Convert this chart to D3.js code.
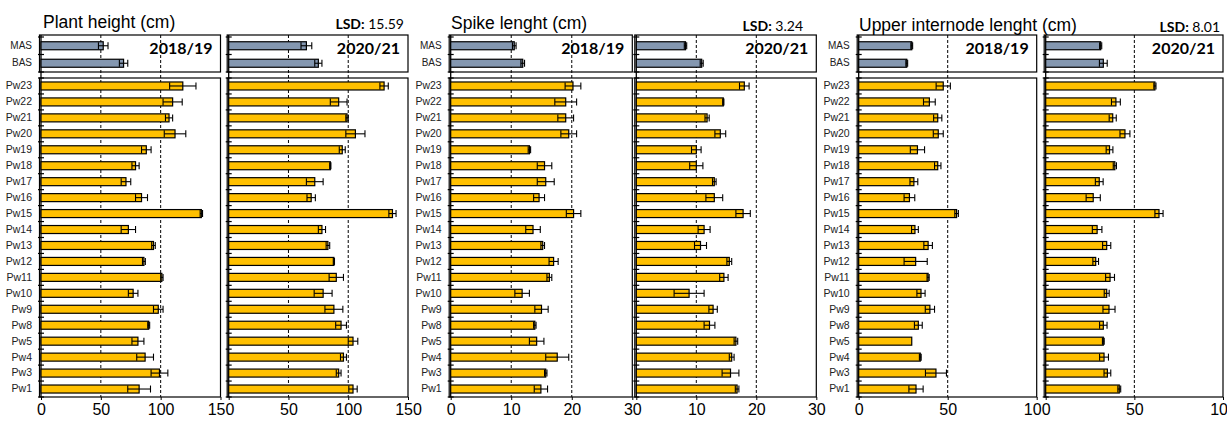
<!DOCTYPE html>
<html>
<head>
<meta charset="utf-8">
<script src="https://cdn.jsdelivr.net/npm/d3@7"></script>
<style>
body { margin: 0; background: #fff; }
text { font-family: "Liberation Sans", Arial, sans-serif; }
</style>
</head>
<body>
<svg id="chart" width="1227" height="421"></svg>
<script>
// categories (top to bottom)
var lines = ["Pw23", "Pw22", "Pw21", "Pw20", "Pw19", "Pw18", "Pw17", "Pw16", "Pw15", "Pw14",
             "Pw13", "Pw12", "Pw11", "Pw10", "Pw9", "Pw8", "Pw5", "Pw4", "Pw3", "Pw1"];
var checks = ["MAS", "BAS"];
var years = ["2018/19", "2020/21"];
var traitTitles = ["Plant height (cm)", "Spike lenght (cm)", "Upper internode lenght (cm)"];
var lsdValues = ["15.59", "3.24", "8.01"];

var heightTicks = [0, 50, 100, 150];
var spikeTicks = [0, 10, 20, 30];
var internodeTicks = [0, 50, 100];

// plant height
var heightChecks1819 = [52, 69];
var heightChecksSe1819 = [4, 3.5];
var height1819 = [118.5, 110, 107, 112, 88, 79, 71, 84, 134, 73, 94, 86, 101, 77, 98, 90, 81, 87, 99, 82];
var heightSe1819 = [11, 8, 3, 9, 4, 3, 4, 5, 1, 6, 1.5, 1.2, 1, 4, 4, 0.8, 5, 7, 7, 9.5];
var heightChecks2021 = [65, 75];
var heightChecksSe2021 = [4.5, 3];
var height2021 = [130, 92, 99, 106, 95, 85, 72, 69, 137, 78, 83, 88, 90, 79, 88, 94, 104, 96, 92, 104];
var heightSe2021 = [3.5, 7, 1, 8, 2.5, 0.5, 7, 3.5, 3, 3, 1.5, 0.5, 6, 7.5, 7.5, 4.5, 4, 2.5, 2, 3.5];

// spike length
var spikeChecks1819 = [10.5, 11.9];
var spikeChecksSe1819 = [0.3, 0.3];
var spike1819 = [20.2, 19, 19, 19.5, 13, 15.5, 15.7, 14.6, 20.3, 13.6, 15.2, 17, 16.3, 11.8, 15, 13.9, 14.2, 17.6, 15.7, 14.9];
var spikeSe1819 = [1.3, 1.8, 1.3, 1.3, 0.2, 1.2, 1.4, 0.9, 1.2, 1.2, 0.3, 0.75, 0.4, 1.2, 1.1, 0.2, 1.2, 1.9, 0.2, 1.1];
var spikeChecks2021 = [8.2, 10.9];
var spikeChecksSe2021 = [0.2, 0.25];
var spike2021 = [18, 14.5, 11.8, 14, 10, 10, 13, 13, 17.8, 11.3, 10.7, 15.5, 14.6, 8.8, 12.8, 12.2, 16.6, 15.9, 15.7, 16.8];
var spikeSe2021 = [0.8, 0.1, 0.35, 0.9, 0.8, 1.1, 0.3, 1.4, 1.2, 1, 1, 0.4, 0.7, 2.5, 0.7, 0.9, 0.3, 0.4, 1.4, 0.3];

// upper internode length
var internodeChecks1819 = [29.8, 27];
var internodeChecksSe1819 = [0.5, 0.5];
var internode1819 = [47.5, 39.7, 44.4, 44.7, 33, 44.4, 31, 28.5, 55, 31.6, 39, 32, 39, 35, 40, 33.5, 29.8, 34.6, 43.4, 32.2];
var internodeSe1819 = [4, 3.3, 2.3, 2.8, 4, 1.8, 2.2, 3, 1, 1.9, 2.4, 6.5, 0.6, 2.3, 2.6, 2.2, 0, 0.5, 5.9, 4];
var internodeChecks2021 = [31, 32.5];
var internodeChecksSe2021 = [0.6, 2.2];
var internode2021 = [61.6, 39.6, 37.8, 44.7, 36, 39, 30.2, 26.8, 63.9, 29, 34.4, 28.2, 36.3, 34.4, 35.7, 32.5, 32.5, 32.9, 34.8, 41.5];
var internodeSe2021 = [0.6, 2.5, 2, 2.8, 1.9, 0.9, 2.2, 4, 2.3, 2.7, 2.3, 1.6, 2.5, 1.4, 3.4, 2.1, 0.5, 2.5, 1.9, 0.8];

var svg = d3.select('#chart');

var topY = [37, 72];
var botY = [78, 397];
var barH = 8;

var panels = [
  {x: [41, 220.5], ticks: heightTicks, year: 0, labels: true,
   checks: heightChecks1819, checksSe: heightChecksSe1819, mean: height1819, se: heightSe1819},
  {x: [228.7, 408], ticks: heightTicks, year: 1, labels: false,
   checks: heightChecks2021, checksSe: heightChecksSe2021, mean: height2021, se: heightSe2021},
  {x: [450.7, 632.3], ticks: spikeTicks, year: 0, labels: true,
   checks: spikeChecks1819, checksSe: spikeChecksSe1819, mean: spike1819, se: spikeSe1819},
  {x: [636.3, 816.3], ticks: spikeTicks, year: 1, labels: false,
   checks: spikeChecks2021, checksSe: spikeChecksSe2021, mean: spike2021, se: spikeSe2021},
  {x: [858.7, 1036.7], ticks: internodeTicks, year: 0, labels: true,
   checks: internodeChecks1819, checksSe: internodeChecksSe1819, mean: internode1819, se: internodeSe1819},
  {x: [1045.7, 1223], ticks: internodeTicks, year: 1, labels: false,
   checks: internodeChecks2021, checksSe: internodeChecksSe2021, mean: internode2021, se: internodeSe2021}
];

function drawBars(g, x, y, cats, mean, se, fill) {
  var rows = cats.map(function (c, i) { return {c: c, m: mean[i], s: se[i]}; });
  var cy = function (d) { return y(d.c) + y.bandwidth() / 2; };

  g.selectAll(null).data(rows).enter().append('rect')
    .attr('x', x(0))
    .attr('y', function (d) { return cy(d) - barH / 2; })
    .attr('width', function (d) { return x(d.m) - x(0); })
    .attr('height', barH)
    .attr('fill', fill)
    .attr('stroke', '#000')
    .attr('stroke-width', 1.2);

  var eb = g.selectAll(null).data(rows.filter(function (d) { return d.s > 0; })).enter().append('g')
    .attr('stroke', '#000').attr('stroke-width', 1.1);
  eb.append('line')
    .attr('x1', function (d) { return x(d.m - d.s); })
    .attr('x2', function (d) { return x(d.m + d.s); })
    .attr('y1', cy).attr('y2', cy);
  eb.append('line')
    .attr('x1', function (d) { return x(d.m - d.s); })
    .attr('x2', function (d) { return x(d.m - d.s); })
    .attr('y1', function (d) { return cy(d) - 3.5; })
    .attr('y2', function (d) { return cy(d) + 3.5; });
  eb.append('line')
    .attr('x1', function (d) { return x(d.m + d.s); })
    .attr('x2', function (d) { return x(d.m + d.s); })
    .attr('y1', function (d) { return cy(d) - 3.5; })
    .attr('y2', function (d) { return cy(d) + 3.5; });
}

function bandTicks(g, x0, y) {
  var cats = y.domain();
  var bounds = cats.map(function (c) { return y(c); });
  bounds.push(y(cats[cats.length - 1]) + y.step());
  g.selectAll(null).data(bounds).enter().append('line')
    .attr('x1', x0 - 3).attr('x2', x0 + 3)
    .attr('y1', function (d) { return d; }).attr('y2', function (d) { return d; })
    .attr('stroke', '#000').attr('stroke-width', 1.2);
}

panels.forEach(function (p) {
  var ticks = p.ticks;
  var x = d3.scaleLinear().domain([0, ticks[ticks.length - 1]]).range(p.x);
  var yTop = d3.scaleBand().domain(checks).range(topY);
  var yBot = d3.scaleBand().domain(lines).range(botY);
  var g = svg.append('g');

  // dashed gridlines
  g.selectAll(null).data(ticks.slice(1, -1)).enter().append('line')
    .attr('x1', function (d) { return x(d); }).attr('x2', function (d) { return x(d); })
    .attr('y1', 35).attr('y2', 397)
    .attr('stroke', '#000').attr('stroke-width', 1).attr('stroke-dasharray', '3,2');

  // frames
  g.append('rect').attr('x', p.x[0] - 1.5).attr('y', 35)
    .attr('width', p.x[1] - p.x[0] + 1.5).attr('height', 37)
    .attr('fill', 'none').attr('stroke', '#000').attr('stroke-width', 1.2);
  g.append('rect').attr('x', p.x[0] - 1.5).attr('y', 78)
    .attr('width', p.x[1] - p.x[0] + 1.5).attr('height', 319)
    .attr('fill', 'none').attr('stroke', '#000').attr('stroke-width', 1.2);
  g.append('line').attr('x1', p.x[0]).attr('x2', p.x[0]).attr('y1', 35).attr('y2', 397)
    .attr('stroke', '#000').attr('stroke-width', 1.3);

  drawBars(g, x, yTop, checks, p.checks, p.checksSe, '#8497B0');
  drawBars(g, x, yBot, lines, p.mean, p.se, '#FFC000');
  bandTicks(g, p.x[0], yTop);
  bandTicks(g, p.x[0], yBot);

  // year label
  g.append('text')
    .attr('x', p.x[1] - 8).attr('y', 54)
    .attr('text-anchor', 'end')
    .style('font-family', 'Lato, "Open Sans", sans-serif')
    .style('font-weight', 'bold').style('font-size', '16px')
    .text(years[p.year]);

  // x axis (the 0 of a right-hand panel sits under the previous panel's last label)
  var ax = g.append('g').attr('transform', 'translate(0,397)')
    .call(d3.axisBottom(x).tickValues(ticks).tickSize(3).tickPadding(4)
      .tickFormat(function (d) { return (d === 0 && !p.labels) ? '' : d3.format('d')(d); }));
  ax.select('.domain').remove();
  ax.selectAll('text').style('font-size', '16px').style('font-family', '"Liberation Sans", Arial, sans-serif').attr('fill', '#000');
  ax.selectAll('line').attr('stroke', '#000');

  if (p.labels) {
    var lt = g.append('g').attr('transform', 'translate(' + p.x[0] + ',0)')
      .call(d3.axisLeft(yTop).tickSize(0).tickPadding(9));
    lt.select('.domain').remove();
    lt.selectAll('text').style('font-size', '10px').attr('fill', '#222');
    var lb = g.append('g').attr('transform', 'translate(' + p.x[0] + ',0)')
      .call(d3.axisLeft(yBot).tickSize(0).tickPadding(9));
    lb.select('.domain').remove();
    lb.selectAll('text').style('font-size', '10.5px').attr('fill', '#222');
  }
});

// trait titles and LSD
var titleX = [43, 451, 859];
var titleY = [28, 29, 31];
var lsdX = [404, 803, 1220];
var lsdY = [29, 31, 32];
traitTitles.forEach(function (t, i) {
  svg.append('text').attr('x', titleX[i]).attr('y', titleY[i])
    .style('font-size', '17.5px').attr('fill', '#000').text(t);
  var lsd = svg.append('text').attr('x', lsdX[i]).attr('y', lsdY[i])
    .attr('text-anchor', 'end')
    .style('font-family', 'Lato, "Open Sans", sans-serif').style('font-size', '14px');
  lsd.append('tspan').style('font-weight', 'bold').text('LSD:');
  lsd.append('tspan').text(' ' + lsdValues[i]);
});
</script>
</body>
</html>
